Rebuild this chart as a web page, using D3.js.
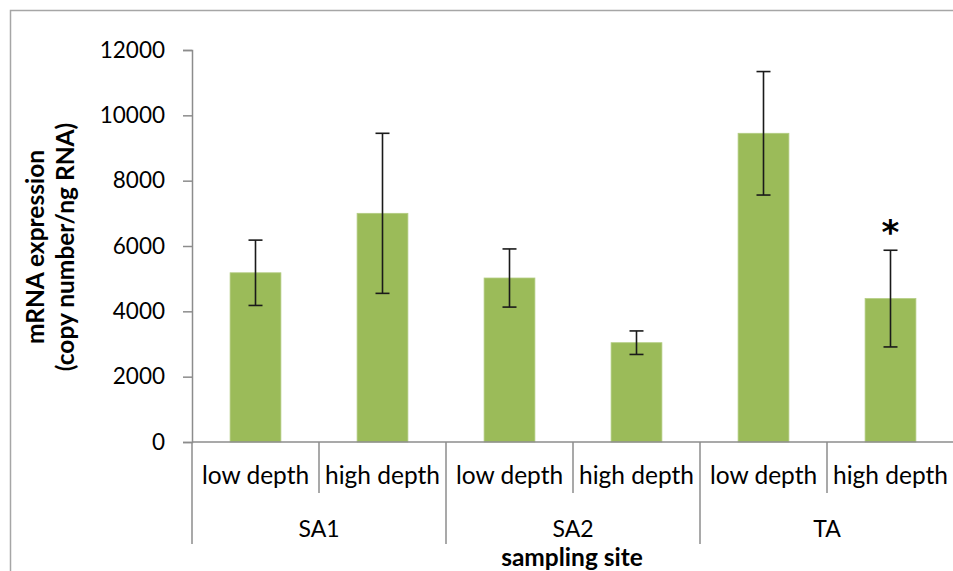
<!DOCTYPE html>
<html>
<head>
<meta charset="utf-8">
<script src="https://cdn.jsdelivr.net/npm/d3@7/dist/d3.min.js"></script>
<style>
  html, body { margin: 0; padding: 0; background: #fff; }
  svg { display: block; font-family: Lato, "Open Sans", sans-serif; }
</style>
</head>
<body>
<svg id="chart" width="953" height="571"></svg>
<script>
// Sampling sites and depth levels
const sites = ["SA1", "SA2", "TA"];
const depths = ["low depth", "high depth"];
// Mean mRNA expression (copy number / ng RNA), site by depth
const means = [5180, 7000, 5020, 3040, 9450, 4390];
// Error bar half-widths
const errors = [1000, 2450, 890, 360, 1890, 1480];
// Significance markers
const marks = ["", "", "", "", "", "*"];
const yTicks = [0, 2000, 4000, 6000, 8000, 10000, 12000];

const rows = [];
sites.forEach((s, i) => depths.forEach((d, j) => {
  const k = i * depths.length + j;
  rows.push({ key: s + "|" + d, site: s, depth: d, value: means[k], err: errors[k], mark: marks[k] });
}));

const svg = d3.select("#chart");
const axisGray = "#8c8c8c";

// outer chart frame
svg.append("rect")
  .attr("x", 10.5).attr("y", 10.5)
  .attr("width", 960).attr("height", 600)
  .attr("fill", "none").attr("stroke", "#a6a6a6").attr("stroke-width", 1.5);

const x = d3.scaleBand()
  .domain(rows.map(r => r.key))
  .range([192, 954])
  .paddingInner(0).paddingOuter(0);

const y = d3.scaleLinear().domain([0, 12000]).range([442, 50]);

// y axis
const yAxis = svg.append("g")
  .attr("transform", "translate(192,0)")
  .call(d3.axisLeft(y).tickValues(yTicks).tickSize(9).tickPadding(18).tickFormat(d3.format("d")));
yAxis.select(".domain").attr("stroke", axisGray).attr("stroke-width", 1.5);
yAxis.selectAll(".tick line").attr("stroke", axisGray).attr("stroke-width", 1.5);
yAxis.selectAll(".tick text")
  .attr("fill", "#000").attr("font-size", 22.5).attr("font-family", "Lato, sans-serif");

// bars
const barW = x.bandwidth() * 0.4;
svg.append("g").selectAll("rect")
  .data(rows).join("rect")
  .attr("x", d => x(d.key) + (x.bandwidth() - barW) / 2)
  .attr("y", d => y(d.value))
  .attr("width", barW)
  .attr("height", d => y(0) - y(d.value))
  .attr("fill", "#9bbb59")
  .attr("stroke", "#b3cc82").attr("stroke-width", 0.8);

// error bars
const eb = svg.append("g").attr("stroke", "#1a1a1a").attr("stroke-width", 1.6);
rows.forEach(d => {
  const cx = x(d.key) + x.bandwidth() / 2;
  const capW = 7;
  eb.append("line").attr("x1", cx).attr("x2", cx)
    .attr("y1", y(d.value + d.err)).attr("y2", y(d.value - d.err));
  [d.value + d.err, d.value - d.err].forEach(v => {
    eb.append("line").attr("x1", cx - capW).attr("x2", cx + capW)
      .attr("y1", y(v)).attr("y2", y(v));
  });
});

// significance asterisk
svg.append("g").selectAll("text")
  .data(rows.filter(d => d.mark)).join("text")
  .attr("x", d => x(d.key) + x.bandwidth() / 2)
  .attr("y", d => y(d.value + d.err) - 6)
  .attr("text-anchor", "middle")
  .attr("font-size", 34).attr("font-weight", "bold")
  .attr("font-family", "'DejaVu Sans', sans-serif")
  .text(d => d.mark);

// x axis baseline
svg.append("line")
  .attr("x1", 192).attr("x2", 954).attr("y1", 442).attr("y2", 442)
  .attr("stroke", axisGray).attr("stroke-width", 1.5);

// depth dividers (short) and site dividers (long)
const bounds = d3.range(rows.length + 1).map(i => 192 + i * x.bandwidth());
svg.append("g").selectAll("line")
  .data(bounds).join("line")
  .attr("x1", d => d).attr("x2", d => d)
  .attr("y1", 442)
  .attr("y2", (d, i) => i % depths.length === 0 ? 544 : 493)
  .attr("stroke", axisGray).attr("stroke-width", 1.5);

// depth labels
svg.append("g").selectAll("text")
  .data(rows).join("text")
  .attr("x", d => x(d.key) + x.bandwidth() / 2)
  .attr("y", 484)
  .attr("text-anchor", "middle")
  .attr("font-size", 24.5)
  .text(d => d.depth);

// site labels
svg.append("g").selectAll("text")
  .data(sites).join("text")
  .attr("x", (d, i) => 192 + (i + 0.5) * depths.length * x.bandwidth())
  .attr("y", 537)
  .attr("text-anchor", "middle")
  .attr("font-size", 23)
  .text(d => d);

// axis titles
svg.append("text")
  .attr("x", 572).attr("y", 566)
  .attr("text-anchor", "middle")
  .attr("font-size", 24.5).attr("font-weight", "bold")
  .text("sampling site");

const yt = svg.append("text")
  .attr("transform", "translate(0,247) rotate(-90)")
  .attr("text-anchor", "middle")
  .attr("font-size", 24.5).attr("font-weight", "bold");
yt.append("tspan").attr("x", 0).attr("y", 44).text("mRNA expression");
yt.append("tspan").attr("x", 0).attr("y", 74).text("(copy number/ng RNA)");
</script>
</body>
</html>
